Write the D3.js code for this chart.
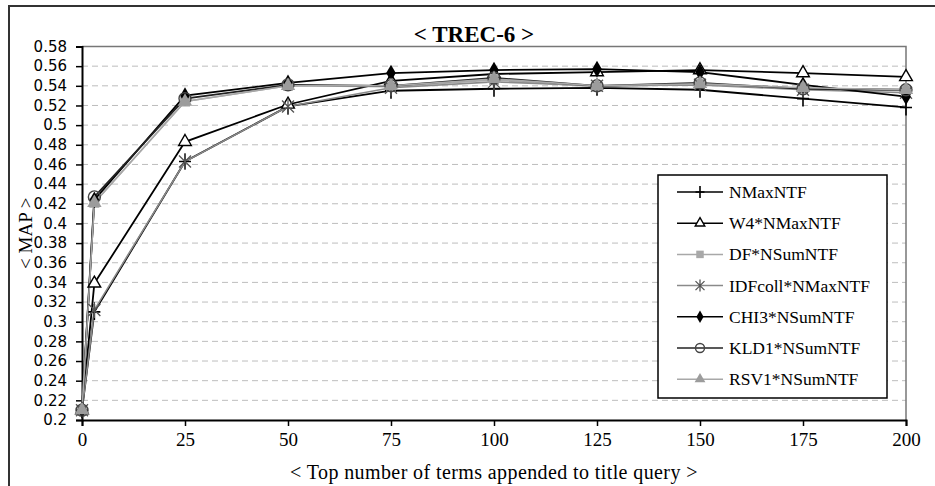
<html>
  <head>
    <meta charset="utf-8">
    <title>TREC-6 MAP</title>
<style>
body { margin: 0; background: #fff; }
.grid line { stroke: #bdbdbd; stroke-dasharray: 6,4; }
.ytick text { font-family: 'DejaVu Sans', sans-serif; font-size: 15px; fill: #000; }
.xtick text { font-family: 'Liberation Serif', serif; font-size: 19px; fill: #000; }
.legend text { font-family: 'Liberation Serif', serif; font-size: 17.5px; fill: #000; }
</style>
  </head>
  <body>
  <div id="chart"></div>

    <script src="https://d3js.org/d3.v7.min.js"></script>
    <script>

    // data
    var xValues = [0, 3, 25, 50, 75, 100, 125, 150, 175, 200];
    var xTicks = [0, 25, 50, 75, 100, 125, 150, 175, 200];
    var yTicks = [0.2, 0.22, 0.24, 0.26, 0.28, 0.3, 0.32, 0.34, 0.36, 0.38, 0.4,
                  0.42, 0.44, 0.46, 0.48, 0.5, 0.52, 0.54, 0.56, 0.58];

    var seriesNames = ["NMaxNTF", "W4*NMaxNTF", "DF*NSumNTF", "IDFcoll*NMaxNTF",
                       "CHI3*NSumNTF", "KLD1*NSumNTF", "RSV1*NSumNTF"];

    var nmaxValues = [0.210, 0.310, 0.463, 0.519, 0.535, 0.537, 0.538, 0.536, 0.527, 0.518];
    var w4Values   = [0.210, 0.339, 0.483, 0.521, 0.545, 0.552, 0.554, 0.556, 0.553, 0.549];
    var dfValues   = [0.210, 0.421, 0.524, 0.540, 0.539, 0.546, 0.539, 0.542, 0.537, 0.535];
    var idfValues  = [0.210, 0.312, 0.463, 0.519, 0.538, 0.544, 0.540, 0.541, 0.536, 0.533];
    var chi3Values = [0.210, 0.424, 0.530, 0.543, 0.553, 0.556, 0.557, 0.554, 0.541, 0.529];
    var kld1Values = [0.210, 0.427, 0.527, 0.541, 0.540, 0.548, 0.540, 0.543, 0.537, 0.536];
    var rsv1Values = [0.210, 0.421, 0.524, 0.540, 0.540, 0.547, 0.540, 0.542, 0.538, 0.536];

    var allValues = [nmaxValues, w4Values, dfValues, idfValues, chi3Values, kld1Values, rsv1Values];

    // line colour, marker kind per series
    var styles = [
      {line: "#000", marker: "plus"},
      {line: "#000", marker: "triangleOpen"},
      {line: "#a8a8a8", marker: "square"},
      {line: "#8a8a8a", marker: "x"},
      {line: "#000", marker: "diamond"},
      {line: "#222", marker: "circle"},
      {line: "#a8a8a8", marker: "triangle"}
    ];

    var W = 935, H = 486;
    var plotLeft = 82, plotRight = 906, plotTop = 46.5, plotBottom = 420;

    var svg = d3.select("#chart").append("svg")
      .attr("width", W)
      .attr("height", H);

    var x = d3.scaleLinear().domain([0, 200]).range([plotLeft, plotRight]);
    var y = d3.scaleLinear().domain([0.2, 0.58]).range([plotBottom, plotTop]);

    // outer frame (runs off the picture on the right and bottom)
    svg.append("rect")
      .attr("x", 9).attr("y", 6)
      .attr("width", 950).attr("height", 500)
      .attr("fill", "none")
      .attr("stroke", "#333")
      .attr("stroke-width", 2);

    // grid
    svg.append("g").attr("class", "grid")
      .selectAll("line")
      .data(yTicks.filter(function(d){ return d > 0.2 && d < 0.58; }))
      .enter().append("line")
      .attr("x1", plotLeft).attr("x2", plotRight)
      .attr("y1", function(d){ return y(d); })
      .attr("y2", function(d){ return y(d); });

    // top and right frame of plot
    svg.append("path")
      .attr("d", "M" + plotLeft + "," + plotTop + "H" + plotRight + "V" + plotBottom)
      .attr("fill", "none")
      .attr("stroke", "#777")
      .attr("stroke-width", 1.5);

    // axes
    var yAxis = d3.axisLeft(y)
      .tickValues(yTicks)
      .tickSize(6)
      .tickPadding(9)
      .tickFormat(function(d){ return String(+d.toFixed(2)); });

    svg.append("g")
      .attr("class", "ytick")
      .attr("transform", "translate(" + plotLeft + ",0)")
      .call(yAxis)
      .call(function(g){
        g.select(".domain").attr("stroke", "#000").attr("stroke-width", 2);
        g.selectAll(".tick line").attr("stroke", "#000").attr("stroke-width", 1.5);
      });

    var xAxis = d3.axisBottom(x)
      .tickValues(xTicks)
      .tickSize(6)
      .tickPadding(7)
      .tickFormat(d3.format("d"));

    svg.append("g")
      .attr("class", "xtick")
      .attr("transform", "translate(0," + plotBottom + ")")
      .call(xAxis)
      .call(function(g){
        g.select(".domain").attr("stroke", "#000").attr("stroke-width", 2);
        g.selectAll(".tick line").attr("stroke", "#000").attr("stroke-width", 1.5);
      });

    // titles
    svg.append("text")
      .attr("x", 474).attr("y", 41.5)
      .attr("text-anchor", "middle")
      .style("font-family", "'Liberation Serif', serif")
      .style("font-weight", "bold")
      .style("font-size", "23px")
      .text("< TREC-6 >");

    svg.append("text")
      .attr("x", (plotLeft + plotRight) / 2).attr("y", 479)
      .attr("text-anchor", "middle")
      .style("font-family", "'Liberation Serif', serif")
      .style("font-size", "20px")
      .style("letter-spacing", "0.4px")
      .text("< Top number of terms appended to title query >");

    svg.append("text")
      .attr("transform", "translate(32," + ((plotTop + plotBottom) / 2) + ") rotate(-90)")
      .attr("text-anchor", "middle")
      .style("font-family", "'Liberation Serif', serif")
      .style("font-size", "19px")
      .text("< MAP >");

    function drawMarker(g, kind, cx, cy, scale) {
      var s = scale || 1;
      if (kind === "plus") {
        g.append("path")
          .attr("d", "M" + (cx - 6*s) + "," + cy + "H" + (cx + 6*s) + "M" + cx + "," + (cy - 8*s) + "V" + (cy + 8*s))
          .attr("stroke", "#000").attr("stroke-width", 1.6);
      } else if (kind === "triangleOpen") {
        g.append("path")
          .attr("d", d3.symbol().type(d3.symbolTriangle).size(70*s*s)())
          .attr("transform", "translate(" + cx + "," + cy + ")")
          .attr("fill", "#fff").attr("stroke", "#000").attr("stroke-width", 1.4);
      } else if (kind === "square") {
        g.append("rect")
          .attr("x", cx - 5*s).attr("y", cy - 5*s)
          .attr("width", 10*s).attr("height", 10*s)
          .attr("fill", "#a8a8a8");
      } else if (kind === "x") {
        g.append("path")
          .attr("d", "M" + (cx - 6*s) + "," + (cy - 6*s) + "L" + (cx + 6*s) + "," + (cy + 6*s) +
                     "M" + (cx - 6*s) + "," + (cy + 6*s) + "L" + (cx + 6*s) + "," + (cy - 6*s) +
                     "M" + cx + "," + (cy - 8*s) + "V" + (cy + 8*s))
          .attr("stroke", "#555").attr("stroke-width", 1.3);
      } else if (kind === "diamond") {
        g.append("path")
          .attr("d", d3.symbol().type(d3.symbolDiamond).size(80*s*s)())
          .attr("transform", "translate(" + cx + "," + cy + ")")
          .attr("fill", "#000");
      } else if (kind === "circle") {
        g.append("circle")
          .attr("cx", cx).attr("cy", cy).attr("r", 6*s)
          .attr("fill", "none").attr("stroke", "#444").attr("stroke-width", 1.4);
      } else if (kind === "triangle") {
        g.append("path")
          .attr("d", d3.symbol().type(d3.symbolTriangle).size(90*s*s)())
          .attr("transform", "translate(" + cx + "," + cy + ")")
          .attr("fill", "#9c9c9c");
      }
    }

    var line = d3.line()
      .x(function(d){ return x(d[0]); })
      .y(function(d){ return y(d[1]); });

    var plot = svg.append("g");

    allValues.forEach(function(vals, i){
      var pts = xValues.map(function(xv, j){ return [xv, vals[j]]; });
      plot.append("path")
        .attr("d", line(pts))
        .attr("fill", "none")
        .attr("stroke", styles[i].line)
        .attr("stroke-width", styles[i].line === "#000" || styles[i].line === "#222" ? 1.8 : 1.6);
    });

    allValues.forEach(function(vals, i){
      var mg = plot.append("g");
      xValues.forEach(function(xv, j){
        drawMarker(mg, styles[i].marker, x(xv), y(vals[j]));
      });
    });

    // legend
    var legend = svg.append("g").attr("class", "legend");
    legend.append("rect")
      .attr("x", 658).attr("y", 175)
      .attr("width", 229).attr("height", 223)
      .attr("fill", "#fff")
      .attr("stroke", "#000")
      .attr("stroke-width", 1.5);

    seriesNames.forEach(function(name, i){
      var ly = 192 + i * 31.2;
      legend.append("line")
        .attr("x1", 677).attr("x2", 723)
        .attr("y1", ly).attr("y2", ly)
        .attr("stroke", styles[i].line)
        .attr("stroke-width", 1.5);
      drawMarker(legend, styles[i].marker, 700, ly, 0.75);
      legend.append("text")
        .attr("x", 729).attr("y", ly + 6)
        .text(name);
    });

     </script>
  </body>
</html>
